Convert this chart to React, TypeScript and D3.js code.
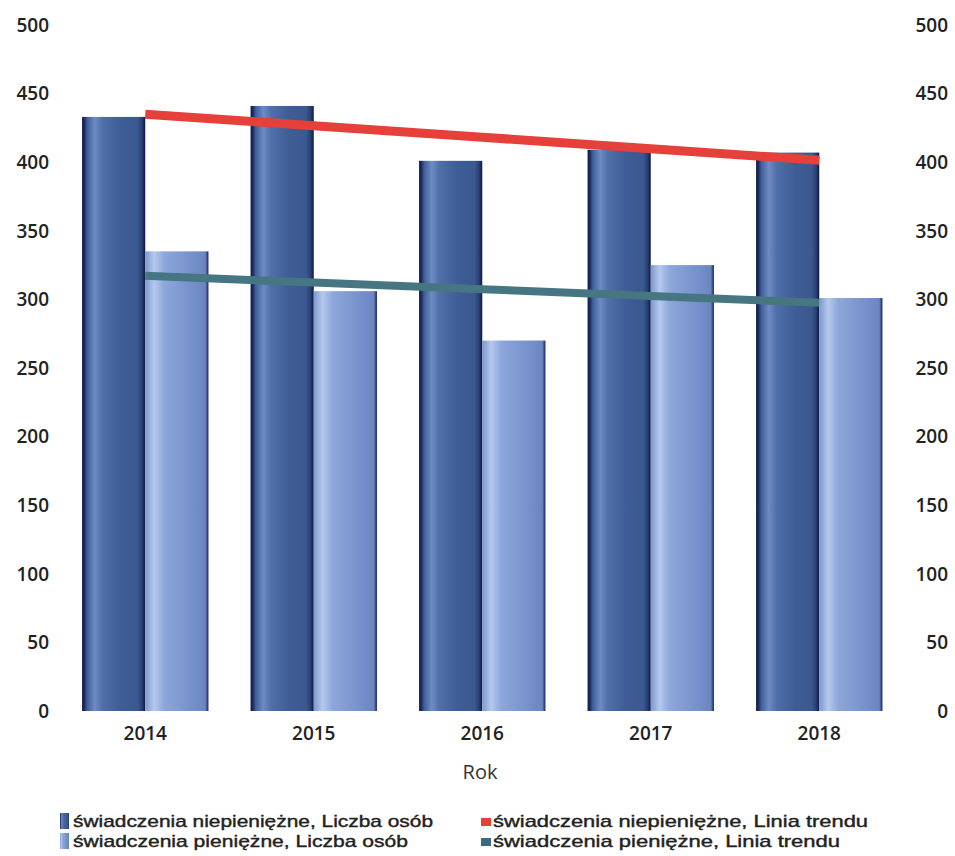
import React, { useEffect } from 'react';
import * as d3 from 'd3';

const years = ['2014', '2015', '2016', '2017', '2018'];
const niepieniezne = [433, 441, 401, 409, 407];
const pieniezne = [335, 306, 270, 325, 301];
const yTicks = [0, 50, 100, 150, 200, 250, 300, 350, 400, 450, 500];

const seriesNames = [
  'świadczenia niepieniężne, Liczba osób',
  'świadczenia pieniężne, Liczba osób',
  'świadczenia niepieniężne, Linia trendu',
  'świadczenia pieniężne, Linia trendu',
];

// linia trendu = regresja liniowa po latach
const trend = (vals: number[]) => {
  const xs = vals.map((_, i) => i);
  const mx = d3.mean(xs)!;
  const my = d3.mean(vals)!;
  const slope =
    d3.sum(xs, (x, i) => (x - mx) * (vals[i] - my)) / d3.sum(xs, (x) => (x - mx) ** 2);
  return xs.map((x) => my + slope * (x - mx));
};

const W = 955;
const H = 856;
const FONT = "'Open Sans', 'Liberation Sans', sans-serif";
const LEG_FONT = "'Liberation Sans Narrow', 'Liberation Sans', sans-serif";

export default function App() {
  useEffect(() => {
    document.body.style.margin = '0';
  }, []);

  const x = d3.scaleBand<string>().domain(years).range([61, 903.5]).paddingInner(0.25).paddingOuter(0.125);
  const y = d3.scaleLinear().domain([0, 500]).range([711, 25]);
  const bw = x.bandwidth() / 2;

  const trendDark = trend(niepieniezne);
  const trendLight = trend(pieniezne);
  const line = d3
    .line<number>()
    .x((_, i) => x(years[i])! + x.bandwidth() / 2)
    .y((d) => y(d));

  return (
    <svg width={W} height={H} style={{ display: 'block', background: '#fff' }}>
      <defs>
        <linearGradient id="gDark" x1="0" x2="1" y1="0" y2="0">
          <stop offset="0" stopColor="#121a44" />
          <stop offset="0.04" stopColor="#1e2f62" />
          <stop offset="0.08" stopColor="#3f5d98" />
          <stop offset="0.2" stopColor="#6e8cc2" />
          <stop offset="0.32" stopColor="#5070aa" />
          <stop offset="0.6" stopColor="#3f5d96" />
          <stop offset="0.88" stopColor="#3b5890" />
          <stop offset="0.95" stopColor="#283f74" />
          <stop offset="1" stopColor="#0f1640" />
        </linearGradient>
        <linearGradient id="gLight" x1="0" x2="1" y1="0" y2="0">
          <stop offset="0" stopColor="#7d98cf" />
          <stop offset="0.14" stopColor="#b6c9ec" />
          <stop offset="0.3" stopColor="#8da7db" />
          <stop offset="0.7" stopColor="#7893cc" />
          <stop offset="0.95" stopColor="#6a85c0" />
          <stop offset="1" stopColor="#1a2060" />
        </linearGradient>
      </defs>

      {/* osie Y */}
      {yTicks.map((t) => (
        <g key={t} fontFamily={FONT} fontWeight={600} fontSize={19} fill="#222">
          <text x={49} y={y(t)} dy="0.36em" textAnchor="end">
            {t}
          </text>
          <text x={948} y={y(t)} dy="0.36em" textAnchor="end">
            {t}
          </text>
        </g>
      ))}

      {/* słupki */}
      {years.map((yr, i) => (
        <g key={yr}>
          <rect
            x={x(yr)!}
            y={y(niepieniezne[i])}
            width={bw}
            height={y(0) - y(niepieniezne[i])}
            fill="url(#gDark)"
          />
          <rect
            x={x(yr)! + bw}
            y={y(pieniezne[i])}
            width={bw}
            height={y(0) - y(pieniezne[i])}
            fill="url(#gLight)"
          />
          <text
            x={x(yr)! + x.bandwidth() / 2}
            y={733}
            dy="0.36em"
            textAnchor="middle"
            fontFamily={FONT}
            fontWeight={600}
            fontSize={19}
            fill="#222"
          >
            {yr}
          </text>
        </g>
      ))}

      {/* linie trendu */}
      <path d={line(trendDark)!} fill="none" stroke="#e5403a" strokeWidth={9} />
      <path d={line(trendLight)!} fill="none" stroke="#467682" strokeWidth={8} />

      <text x={480} y={772} dy="0.36em" textAnchor="middle" fontFamily={FONT} fontSize={20} fill="#333">
        Rok
      </text>

      {/* legenda */}
      <g fontFamily={LEG_FONT} fontSize={17} fill="#222" stroke="#222" strokeWidth={0.4}>
        <rect x={60} y={813} width={9} height={16} fill="url(#gDark)" stroke="none" />
        <text x={73} y={821} dy="0.36em" textLength={360} lengthAdjust="spacingAndGlyphs">
          {seriesNames[0]}
        </text>
        <rect x={60} y={833} width={9} height={16} fill="url(#gLight)" stroke="none" />
        <text x={73} y={841} dy="0.36em" textLength={335} lengthAdjust="spacingAndGlyphs">
          {seriesNames[1]}
        </text>
        <rect x={481} y={818} width={10} height={8} fill="#e5403a" stroke="none" />
        <text x={493} y={821} dy="0.36em" textLength={375} lengthAdjust="spacingAndGlyphs">
          {seriesNames[2]}
        </text>
        <rect x={481} y={838} width={10} height={8} fill="#3a6a80" stroke="none" />
        <text x={493} y={841} dy="0.36em" textLength={347} lengthAdjust="spacingAndGlyphs">
          {seriesNames[3]}
        </text>
      </g>
    </svg>
  );
}
